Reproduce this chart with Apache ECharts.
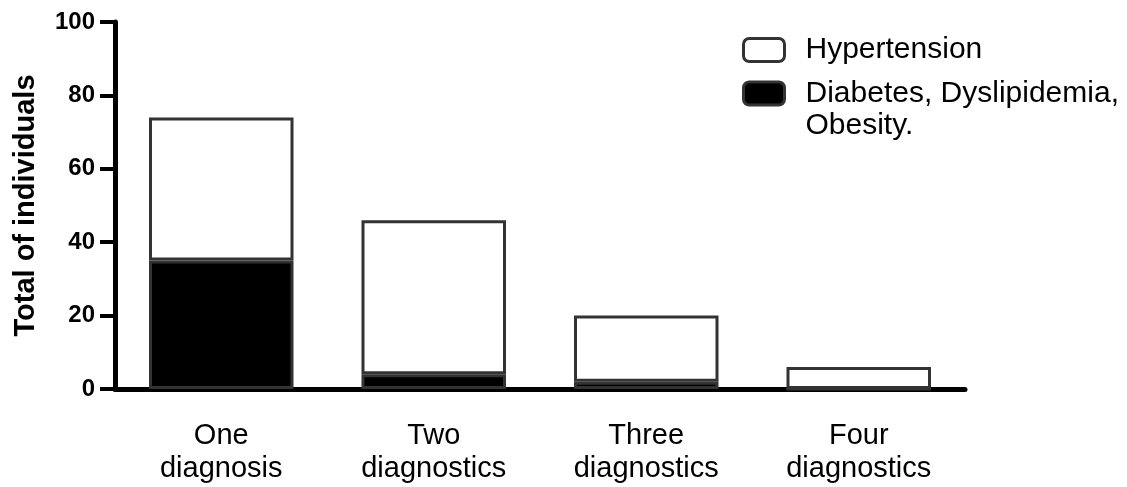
<!DOCTYPE html>
<html>
<head>
<meta charset="utf-8">
<script src="https://cdn.jsdelivr.net/npm/echarts@6/dist/echarts.min.js"></script>
<style>
html,body{margin:0;padding:0;background:#fff;}
#chart{width:1127px;height:487px;}
</style>
</head>
<body>
<div id="chart"></div>
<script>
const categories = ['One\ndiagnosis', 'Two\ndiagnostics', 'Three\ndiagnostics', 'Four\ndiagnostics'];
const otherDiagnoses = [35, 4, 2, 0];      // Diabetes, Dyslipidemia, Obesity (black, bottom)
const hypertension = [39, 42, 18, 6];      // Hypertension (white, stacked on top)
const yTicks = { min: 0, max: 100, interval: 20 };
const nameHyp = 'Hypertension';
const nameOther = 'Diabetes, Dyslipidemia, Obesity.';

const chart = echarts.init(document.getElementById('chart'), null, {renderer: 'canvas'});
const font = '"Liberation Sans", Arial, Helvetica, sans-serif';
const border = '#333333';

chart.setOption({
  animation: false,
  backgroundColor: '#ffffff',
  grid: { left: 115, right: 162, top: 22, bottom: 98, containLabel: false },
  legend: [
    {
      orient: 'vertical', left: 742, top: 33, padding: 0,
      itemWidth: 41, itemHeight: 23,
      icon: 'roundRect',
      data: [{ name: nameHyp, itemStyle: { color: '#fff', borderColor: border, borderWidth: 3 } }],
      textStyle: { fontFamily: font, fontSize: 30, color: '#000', lineHeight: 32, padding: [2, 0, 0, 16] }
    },
    {
      orient: 'vertical', left: 742, top: 44, padding: 0,
      itemWidth: 41, itemHeight: 23,
      icon: 'roundRect',
      data: [{ name: nameOther, itemStyle: { color: '#000', borderColor: border, borderWidth: 3 } }],
      formatter: () => '\nDiabetes, Dyslipidemia,\nObesity.',
      textStyle: { fontFamily: font, fontSize: 30, color: '#000', lineHeight: 32, padding: [3, 0, 0, 16] }
    }
  ],
  xAxis: {
    type: 'category',
    data: categories,
    boundaryGap: true,
    axisLine: { lineStyle: { color: '#000', width: 5 } },
    axisTick: { alignWithLabel: true, length: 14, lineStyle: { color: '#000', width: 4 } },
    axisLabel: { fontFamily: font, fontSize: 29, color: '#000', lineHeight: 33, margin: 30, interval: 0 },
    splitLine: { show: false }
  },
  yAxis: {
    type: 'value',
    min: yTicks.min, max: yTicks.max, interval: yTicks.interval,
    name: 'Total of individuals',
    nameLocation: 'middle',
    nameGap: 75,
    nameRotate: 90,
    nameTextStyle: { fontFamily: font, fontSize: 29, fontWeight: 'bold', color: '#000' },
    axisLine: { show: true, lineStyle: { color: '#000', width: 5 } },
    axisTick: { show: true, length: 15, lineStyle: { color: '#000', width: 4 } },
    axisLabel: { fontFamily: font, fontSize: 24, fontWeight: 'bold', color: '#000', margin: 20 },
    splitLine: { show: false }
  },
  series: [
    {
      name: nameOther, type: 'bar', stack: 'total', data: otherDiagnoses,
      barWidth: '68%',
      itemStyle: { color: '#000', borderColor: border, borderWidth: 3 }
    },
    {
      name: nameHyp, type: 'bar', stack: 'total', data: hypertension,
      barWidth: '68%',
      itemStyle: { color: '#fff', borderColor: border, borderWidth: 3 }
    }
  ]
});
</script>
</body>
</html>
